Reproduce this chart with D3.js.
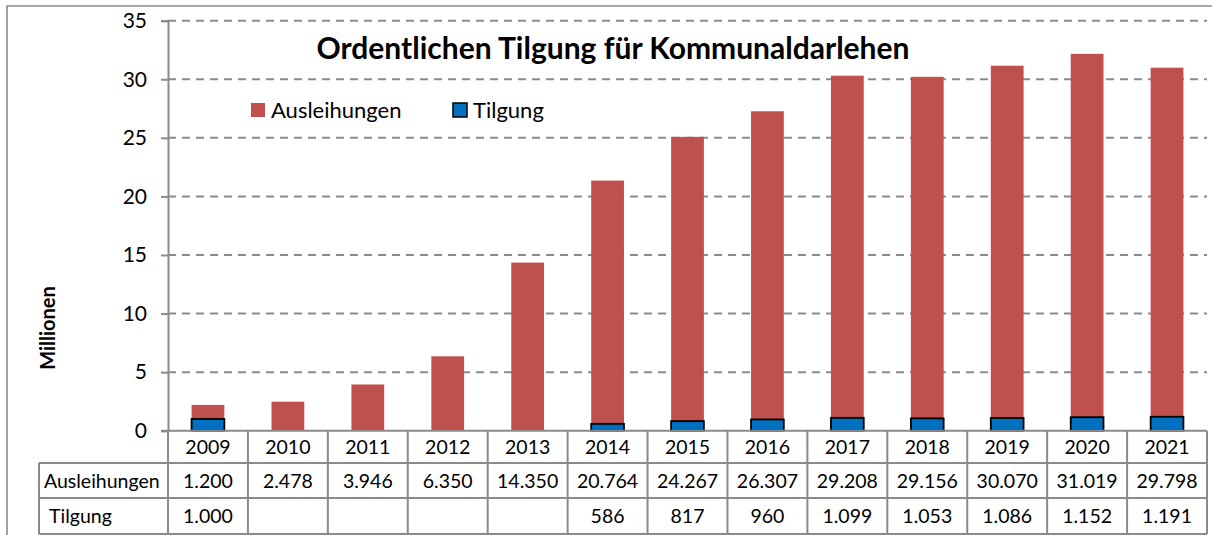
<!DOCTYPE html>
<html>
<head>
<meta charset="utf-8">
<script src="https://cdn.jsdelivr.net/npm/d3@7"></script>
<style>
  html, body { margin: 0; padding: 0; background: #fff; }
  svg { display: block; font-family: Lato, "Open Sans", sans-serif; }
</style>
</head>
<body>
<svg id="chart" width="1212" height="535"></svg>
<script>
// Kommunaldarlehen: Ausleihungen und ordentliche Tilgung (in Tsd.)
const years = ["2009", "2010", "2011", "2012", "2013", "2014", "2015", "2016", "2017", "2018", "2019", "2020", "2021"];
const ausleihungen = [1200, 2478, 3946, 6350, 14350, 20764, 24267, 26307, 29208, 29156, 30070, 31019, 29798];
const tilgung = [1000, null, null, null, null, 586, 817, 960, 1099, 1053, 1086, 1152, 1191];
const yTicks = [0, 5, 10, 15, 20, 25, 30, 35];
const seriesNames = ["Ausleihungen", "Tilgung"];
const colors = { Ausleihungen: "#C0504D", Tilgung: "#0070C0" };

const de = d3.formatLocale({ decimal: ",", thousands: ".", grouping: [3], currency: ["", " €"] });
const fmt = de.format(",d");

const svg = d3.select("#chart");
const gridColor = "#8a8a8a";

const plot = { left: 168, right: 1207, top: 20.7, bottom: 430.7 };

const x = d3.scaleBand().domain(years).range([plot.left, plot.right]).paddingInner(0).paddingOuter(0);
const y = d3.scaleLinear().domain([0, 35]).range([plot.bottom, plot.top]);

// outer frame
svg.append("path")
  .attr("d", `M7,535 V6 H1212`)
  .attr("fill", "none").attr("stroke", gridColor).attr("stroke-width", 1.6);

// dashed gridlines
svg.append("g").selectAll("line")
  .data(yTicks.filter(d => d > 0))
  .join("line")
  .attr("x1", plot.left).attr("x2", plot.right)
  .attr("y1", d => y(d)).attr("y2", d => y(d))
  .attr("stroke", gridColor).attr("stroke-width", 2)
  .attr("stroke-dasharray", "8,6");

// stacked bars: Tilgung at the base, Ausleihungen above
const barW = x.bandwidth() * 0.41;
const stackData = years.map((yr, i) => ({
  year: yr,
  t: (tilgung[i] || 0) / 1000,
  a: ausleihungen[i] / 1000
}));

svg.append("g").selectAll("rect")
  .data(stackData)
  .join("rect")
  .attr("x", d => x(d.year) + (x.bandwidth() - barW) / 2)
  .attr("width", barW)
  .attr("y", d => y(d.t + d.a))
  .attr("height", d => y(d.t) - y(d.t + d.a))
  .attr("fill", colors.Ausleihungen);

svg.append("g").selectAll("rect")
  .data(stackData.filter(d => d.t > 0))
  .join("rect")
  .attr("x", d => x(d.year) + (x.bandwidth() - barW) / 2)
  .attr("width", barW)
  .attr("y", d => y(d.t))
  .attr("height", d => y(0) - y(d.t))
  .attr("fill", colors.Tilgung)
  .attr("stroke", "#000").attr("stroke-width", 1.8);

// y axis
const yAxis = d3.axisLeft(y).tickValues(yTicks).tickSize(7).tickPadding(14).tickFormat(d3.format("d"));
const gy = svg.append("g").attr("transform", `translate(${plot.left},0)`).call(yAxis);
gy.select(".domain").attr("stroke", gridColor).attr("stroke-width", 2);
gy.selectAll(".tick line").attr("stroke", gridColor).attr("stroke-width", 2);
gy.selectAll(".tick text").attr("fill", "#000").style("font-size", "21px")
  .style("font-family", "Lato, 'Open Sans', sans-serif");

// y axis title
svg.append("text")
  .attr("transform", "translate(55,328) rotate(-90)")
  .attr("text-anchor", "middle")
  .style("font-size", "20px").style("font-weight", "bold")
  .text("Millionen");

// chart title
svg.append("text")
  .attr("x", 613).attr("y", 59)
  .attr("text-anchor", "middle")
  .style("font-size", "30px").style("font-weight", "bold")
  .text("Ordentlichen Tilgung für Kommunaldarlehen");

// legend
const legend = svg.append("g");
const legendPos = [{ name: "Ausleihungen", x: 251 }, { name: "Tilgung", x: 453 }];
legendPos.forEach(l => {
  legend.append("rect")
    .attr("x", l.x).attr("y", 103).attr("width", 14).attr("height", 14)
    .attr("fill", colors[l.name])
    .attr("stroke", l.name === "Tilgung" ? "#000" : "none").attr("stroke-width", 1.5);
  legend.append("text")
    .attr("x", l.x + 20).attr("y", 118)
    .style("font-size", "22px")
    .text(l.name);
});

// data table beneath the axis
const rows = [
  { top: 430.7, bottom: 463 },
  { top: 463, bottom: 498 },
  { top: 498, bottom: 534 }
];
const labelLeft = 39;
const tbl = svg.append("g");
const lineStyle = sel => sel.attr("stroke", gridColor).attr("stroke-width", 2);

// horizontal rules
tbl.append("line").attr("x1", plot.left).attr("x2", plot.right).attr("y1", rows[0].bottom).attr("y2", rows[0].bottom).call(lineStyle);
tbl.append("line").attr("x1", labelLeft).attr("x2", plot.right).attr("y1", rows[1].top).attr("y2", rows[1].top).call(lineStyle);
tbl.append("line").attr("x1", labelLeft).attr("x2", plot.right).attr("y1", rows[1].bottom).attr("y2", rows[1].bottom).call(lineStyle);
tbl.append("line").attr("x1", labelLeft).attr("x2", plot.right).attr("y1", rows[2].bottom).attr("y2", rows[2].bottom).call(lineStyle);
// baseline of the plot
tbl.append("line").attr("x1", plot.left - 7).attr("x2", plot.right).attr("y1", rows[0].top).attr("y2", rows[0].top).call(lineStyle);

// vertical rules
const colEdges = years.map(d => x(d)).concat([plot.right]);
tbl.selectAll("line.v")
  .data(colEdges)
  .join("line")
  .attr("class", "v")
  .attr("x1", d => d).attr("x2", d => d)
  .attr("y1", rows[0].top).attr("y2", rows[2].bottom)
  .call(lineStyle);
tbl.append("line").attr("x1", labelLeft).attr("x2", labelLeft).attr("y1", rows[1].top).attr("y2", rows[2].bottom).call(lineStyle);

// cell text
const cellFont = "19.5px";
const mid = r => (r.top + r.bottom) / 2 + 7;
tbl.selectAll("text.year")
  .data(years).join("text")
  .attr("class", "year")
  .attr("x", d => x(d) + x.bandwidth() / 2).attr("y", mid(rows[0]))
  .attr("text-anchor", "middle").style("font-size", cellFont)
  .text(d => d);

tbl.selectAll("text.aus")
  .data(ausleihungen).join("text")
  .attr("class", "aus")
  .attr("x", (d, i) => x(years[i]) + x.bandwidth() / 2).attr("y", mid(rows[1]))
  .attr("text-anchor", "middle").style("font-size", cellFont)
  .text(d => fmt(d));

tbl.selectAll("text.til")
  .data(tilgung).join("text")
  .attr("class", "til")
  .attr("x", (d, i) => x(years[i]) + x.bandwidth() / 2).attr("y", mid(rows[2]))
  .attr("text-anchor", "middle").style("font-size", cellFont)
  .text(d => d == null ? "" : fmt(d));

tbl.append("text").attr("x", 44).attr("y", mid(rows[1]))
  .style("font-size", cellFont).text(seriesNames[0]);
tbl.append("text").attr("x", 49).attr("y", mid(rows[2]))
  .style("font-size", cellFont).text(seriesNames[1]);
</script>
</body>
</html>
